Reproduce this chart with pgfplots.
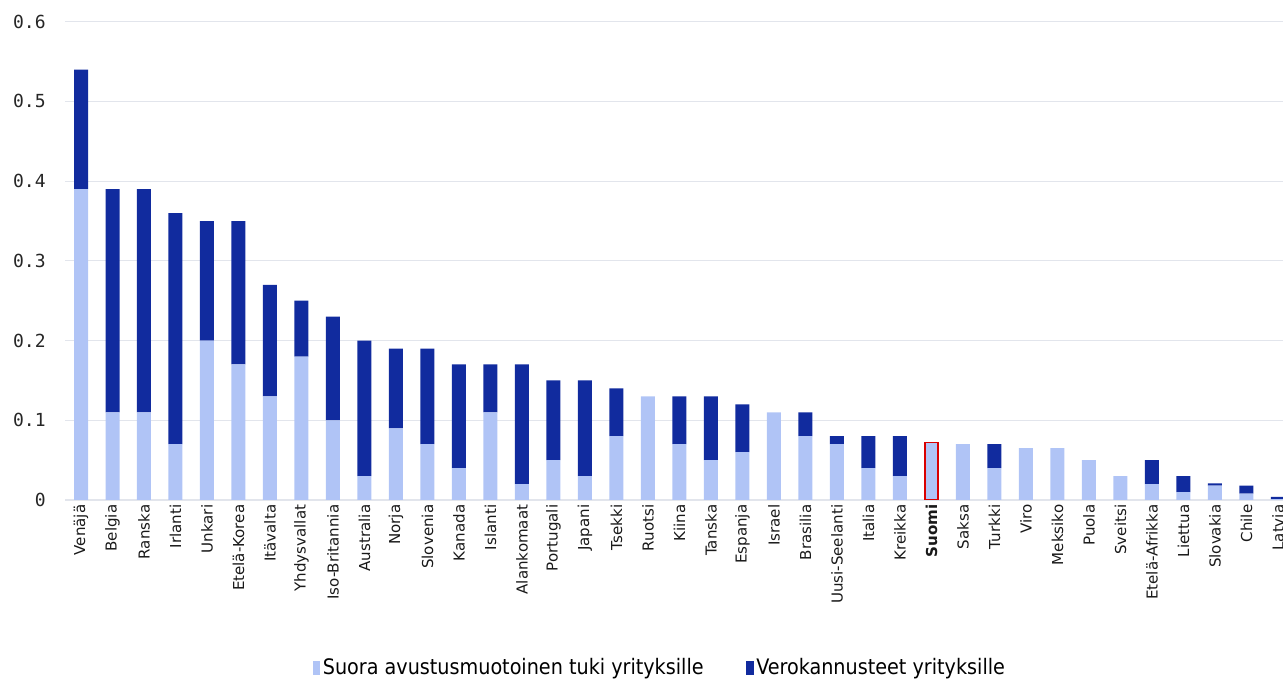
\documentclass[border=0pt]{standalone}
\usepackage{fontspec}
\setmainfont{DejaVu Sans}
\newfontfamily\monofont{DejaVu Sans Mono}
\newfontfamily\legfont{DejaVu Sans Condensed}
\usepackage{pgfplots}
\usepackage{pgfplotstable}
\pgfplotsset{compat=1.18}
\definecolor{lightbar}{RGB}{176,196,246}
\definecolor{darkbar}{RGB}{17,43,158}
\definecolor{gridc}{RGB}{226,229,236}

\pgfplotstableread{
x light dark
0 0.39 0.15
1 0.11 0.28
2 0.11 0.28
3 0.07 0.29
4 0.20 0.15
5 0.17 0.18
6 0.13 0.14
7 0.18 0.07
8 0.10 0.13
9 0.03 0.17
10 0.09 0.10
11 0.07 0.12
12 0.04 0.13
13 0.11 0.06
14 0.02 0.15
15 0.05 0.10
16 0.03 0.12
17 0.08 0.06
18 0.13 0
19 0.07 0.06
20 0.05 0.08
21 0.06 0.06
22 0.11 0
23 0.08 0.03
24 0.07 0.01
25 0.04 0.04
26 0.03 0.05
27 0.072 0
28 0.07 0
29 0.04 0.03
30 0.065 0
31 0.065 0
32 0.05 0
33 0.03 0
34 0.02 0.03
35 0.01 0.02
36 0.018 0.003
37 0.008 0.01
38 0.001 0.003
}\data

\begin{document}
\begin{tikzpicture}[x=1pt,y=1pt]
\path[use as bounding box, clip] (0,0) rectangle (962.25,510.75);
\begin{axis}[
  at={(48.75pt,135.75pt)}, anchor=south west,
  scale only axis, width=926.25pt, height=358.7pt,
  xmin=-0.508, xmax=38.7, ymin=0, ymax=0.6,
  ybar stacked, bar width=10.5pt,
  axis line style={draw=none},
  major tick length=0pt,
  ymajorgrids, grid style={gridc, line width=0.8pt},
  ytick={0,0.1,0.2,0.3,0.4,0.5,0.6},
  yticklabels={0,0.1,0.2,0.3,0.4,0.5,0.6},
  yticklabel style={font=\monofont\fontsize{13.5}{13.5}\selectfont, text=black!85, anchor=east, xshift=-11pt},
  xtick={0,...,38},
  xticklabels={Venäjä,Belgia,Ranska,Irlanti,Unkari,Etelä-Korea,Itävalta,Yhdysvallat,Iso-Britannia,Australia,Norja,Slovenia,Kanada,Islanti,Alankomaat,Portugali,Japani,Tsekki,Ruotsi,Kiina,Tanska,Espanja,Israel,Brasilia,Uusi-Seelanti,Italia,Kreikka,\textbf{Suomi},Saksa,Turkki,Viro,Meksiko,Puola,Sveitsi,Etelä-Afrikka,Liettua,Slovakia,Chile,Latvia},
  xticklabel style={rotate=90, anchor=east, font=\fontsize{11.3}{11.3}\selectfont, text=black!90, xshift=0pt},
  legend style={at={(0.482,-0.351)}, anchor=center, draw=none, fill=none,
    legend columns=2, font=\legfont\fontsize{16}{16}\selectfont,
    /tikz/every even column/.append style={column sep=30pt}},
  legend image code/.code={\fill[#1] (0pt,-5pt) rectangle (5.5pt,5pt);},
]
\addplot[fill=lightbar, draw=none] table[x=x,y=light]{\data};
\addplot[fill=darkbar, draw=none] table[x=x,y=dark]{\data};
\legend{Suora avustusmuotoinen tuki yrityksille, Verokannusteet yrityksille}
\end{axis}
\begin{axis}[
  at={(48.75pt,135.75pt)}, anchor=south west,
  scale only axis, width=926.25pt, height=358.7pt,
  xmin=-0.508, xmax=38.7, ymin=0, ymax=0.6,
  hide axis, ybar, bar width=9.5pt,
]
\addplot[fill=lightbar, draw=red!85!black, line width=1.3pt] coordinates {(27,0.072)};
\end{axis}
\end{tikzpicture}
\end{document}
